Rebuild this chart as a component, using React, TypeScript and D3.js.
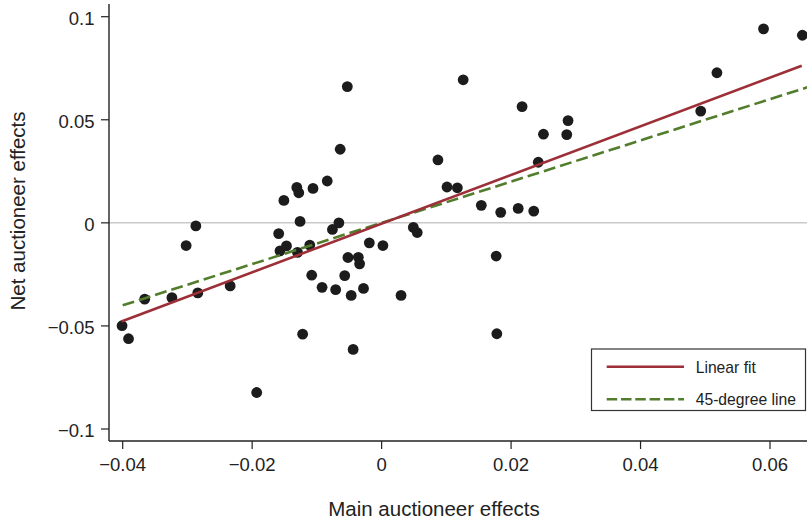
import React from "react";
import * as d3 from "d3";

const xTicks = [-0.04, -0.02, 0, 0.02, 0.04, 0.06];
const xTickLabels = ["\u22120.04", "\u22120.02", "0", "0.02", "0.04", "0.06"];
const yTicks = [0.1, 0.05, 0, -0.05, -0.1];
const yTickLabels = ["0.1", "0.05", "0", "\u22120.05", "\u22120.1"];

const mainEffects = [
  -0.0401, -0.0391, -0.0366, -0.0324, -0.0302, -0.0287, -0.0284, -0.0234, -0.0193,
  -0.0159, -0.0151, -0.0157, -0.0147, -0.0131, -0.0128, -0.0126, -0.013, -0.0122,
  -0.0106, -0.0111, -0.0108, -0.0092, -0.0084, -0.0076, -0.0066, -0.0071, -0.0064,
  -0.0053, -0.0057, -0.0052, -0.0047, -0.0044, -0.0036, -0.0034, -0.0028, -0.0019,
  0.0002, 0.003, 0.0049, 0.0055, 0.0087, 0.0101, 0.0117, 0.0126, 0.0154, 0.0177,
  0.0178, 0.0184, 0.0211, 0.0217, 0.0235, 0.0242, 0.025, 0.0286, 0.0288, 0.0493,
  0.0518, 0.059, 0.065,
];
const netEffects = [
  -0.0499, -0.0562, -0.037, -0.0363, -0.011, -0.0015, -0.034, -0.0306, -0.0823,
  -0.0052, 0.0109, -0.0136, -0.0112, 0.0172, 0.0146, 0.0007, -0.0143, -0.054,
  0.0167, -0.0108, -0.0254, -0.0313, 0.0203, -0.0032, 0.0, -0.0324, 0.0357,
  0.0661, -0.0256, -0.0168, -0.0352, -0.0614, -0.0167, -0.0199, -0.0318, -0.0097,
  -0.011, -0.0352, -0.0022, -0.0047, 0.0305, 0.0174, 0.017, 0.0694, 0.0085, -0.0161,
  -0.0538, 0.0051, 0.007, 0.0564, 0.0057, 0.0294, 0.043, 0.0428, 0.0496, 0.0542,
  0.0728, 0.0941, 0.091,
];

const fitSlope = 1.18;
const fitIntercept = -0.0004;
const fitRange = [-0.0402, 0.0649];
const diagRange = [-0.04, 0.0662];

const legendLabels = ["Linear fit", "45-degree line"];

const RED = "#9c2f37";
const GREEN = "#527d2c";
const FONT = "'Liberation Sans', Arial, Helvetica, sans-serif";

export default function App() {
  const x = d3.scaleLinear().domain([-0.04, 0.06]).range([122.7, 770]);
  const y = d3.scaleLinear().domain([-0.1, 0.1]).range([429, 16.7]);
  const axisLeft = 109;
  const axisBottom = 441;
  const W = 807;
  const H = 522;

  const line = d3
    .line<[number, number]>()
    .x((d) => x(d[0]))
    .y((d) => y(d[1]));

  const fitPts: [number, number][] = fitRange.map((v) => [v, fitSlope * v + fitIntercept]);
  const diagPts: [number, number][] = diagRange.map((v) => [v, v]);

  const pts = mainEffects.map((m, i) => [m, netEffects[i]] as [number, number]);

  return (
    <svg
      width={W}
      height={H}
      style={{ position: "absolute", left: 0, top: 0, background: "#fff" }}
      fontFamily={FONT}
    >
      <rect x={0} y={0} width={W} height={H} fill="#fff" />
      <defs>
        <clipPath id="plotClip">
          <rect x={axisLeft} y={0} width={W - axisLeft} height={axisBottom} />
        </clipPath>
      </defs>
      <line x1={axisLeft} x2={W} y1={y(0)} y2={y(0)} stroke="#c9c9c9" strokeWidth={1.5} />

      <g clipPath="url(#plotClip)">
        {pts.map((p, i) => (
          <circle key={i} cx={x(p[0])} cy={y(p[1])} r={5.4} fill="#1c1c1c" />
        ))}
        <path d={line(diagPts) || ""} stroke={GREEN} strokeWidth={2.6} fill="none" strokeDasharray="12,5" />
        <path d={line(fitPts) || ""} stroke={RED} strokeWidth={2.6} fill="none" />
      </g>

      <line x1={axisLeft} x2={axisLeft} y1={4} y2={axisBottom} stroke="#222" strokeWidth={1.4} />
      <line x1={axisLeft} x2={W} y1={axisBottom} y2={axisBottom} stroke="#222" strokeWidth={1.4} />

      {yTicks.map((t, i) => (
        <g key={"y" + i}>
          <line x1={axisLeft - 8} x2={axisLeft} y1={y(t)} y2={y(t)} stroke="#222" strokeWidth={1.2} />
          <text x={94.5} y={y(t) + 8} textAnchor="end" fontSize={18.5} fill="#222">
            {yTickLabels[i]}
          </text>
        </g>
      ))}
      {xTicks.map((t, i) => (
        <g key={"x" + i}>
          <line x1={x(t)} x2={x(t)} y1={axisBottom} y2={axisBottom + 8} stroke="#222" strokeWidth={1.2} />
          <text x={x(t)} y={470.5} textAnchor="middle" fontSize={18.5} fill="#222">
            {xTickLabels[i]}
          </text>
        </g>
      ))}

      <text x={434} y={516} textAnchor="middle" fontSize={20.5} fill="#222">
        Main auctioneer effects
      </text>
      <text
        transform={`translate(24.5, 211) rotate(-90)`}
        textAnchor="middle"
        fontSize={20.5}
        fill="#222"
      >
        Net auctioneer effects
      </text>

      <rect x={591.5} y={349} width={214} height={61.5} fill="#fff" stroke="#333" strokeWidth={1.2} />
      <line x1={606.7} x2={684} y1={366.7} y2={366.7} stroke={RED} strokeWidth={2.6} />
      <line x1={606.7} x2={684} y1={399.3} y2={399.3} stroke={GREEN} strokeWidth={2.6} strokeDasharray="10.5,3.8" />
      <text x={695.7} y={372.5} fontSize={15.7} fill="#222">
        {legendLabels[0]}
      </text>
      <text x={695.7} y={405} fontSize={15.7} fill="#222">
        {legendLabels[1]}
      </text>
    </svg>
  );
}
